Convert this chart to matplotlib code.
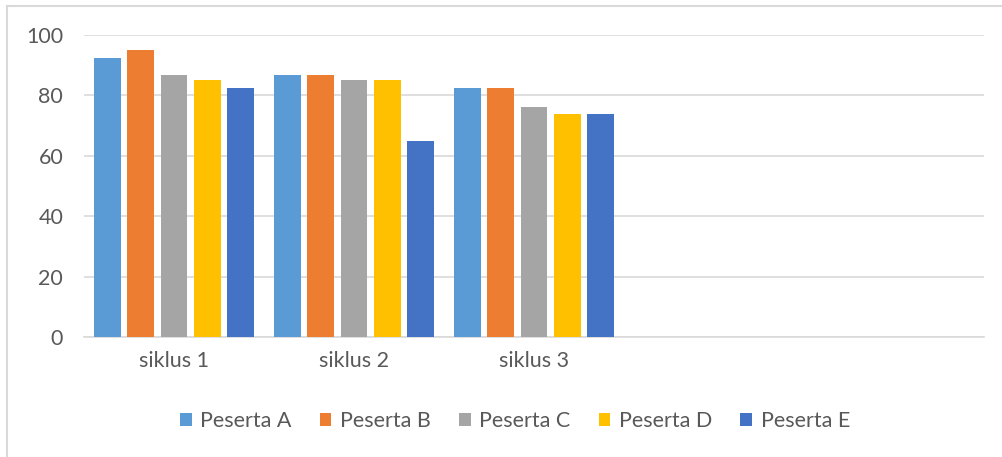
import matplotlib.pyplot as plt
from matplotlib.patches import Patch
from matplotlib.lines import Line2D
import numpy as np

plt.rcParams['font.family'] = ['Lato', 'DejaVu Sans']

categories = ['siklus 1', 'siklus 2', 'siklus 3', '', '']
series = ['Peserta A', 'Peserta B', 'Peserta C', 'Peserta D', 'Peserta E']
values = {
    'Peserta A': [92.5, 86.7, 82.3],
    'Peserta B': [95.0, 86.7, 82.3],
    'Peserta C': [86.7, 85.0, 76.0],
    'Peserta D': [85.0, 85.0, 73.7],
    'Peserta E': [82.3, 65.0, 73.7],
}
colors = ['#5B9BD5', '#ED7D31', '#A5A5A5', '#FFC000', '#4472C4']
yticks = [0, 20, 40, 60, 80, 100]

def main():
    fig = plt.figure(figsize=(10.03, 4.57), dpi=100)
    ax = fig.add_axes([84 / 1003, 1 - 337 / 457, 900 / 1003, 302 / 457])

    x = np.arange(len(categories))
    width = 26.7 / 180
    pitch = 33.3 / 180
    for i, name in enumerate(series):
        vals = values[name]
        ax.bar(x[:len(vals)] + (i - 2) * pitch, vals, width=width,
               color=colors[i], zorder=3, linewidth=0)

    ax.set_xlim(-0.5, len(categories) - 0.5)
    ax.set_ylim(0, 100)
    ax.set_yticks(yticks)
    ax.set_xticks(x)
    ax.set_xticklabels(categories)
    ax.grid(axis='y', color='#D9D9D9', linewidth=1.2, zorder=0)
    for s in ['top', 'right', 'left']:
        ax.spines[s].set_visible(False)
    ax.spines['bottom'].set_color('#D9D9D9')
    ax.spines['bottom'].set_linewidth(1.2)
    ax.tick_params(axis='both', length=0, labelsize=15.5, labelcolor='#595959')
    ax.tick_params(axis='x', pad=10)
    ax.tick_params(axis='y', pad=15)

    handles = [Patch(facecolor=c, edgecolor='none') for c in colors]
    fig.legend(handles, series, loc='center', ncol=5,
               bbox_to_anchor=(515 / 1003, 1 - 421 / 457), frameon=False,
               fontsize=15.5, handlelength=0.55, handleheight=0.55,
               handletextpad=0.4, columnspacing=1.3,
               labelcolor='#595959')

    # chart border (top and left edges visible)
    fig.add_artist(Line2D([7 / 1003, 1], [1 - 5.7 / 457, 1 - 5.7 / 457],
                          color='#D9D9D9', linewidth=1.5, transform=fig.transFigure))
    fig.add_artist(Line2D([7 / 1003, 7 / 1003], [0, 1 - 5.7 / 457],
                          color='#D9D9D9', linewidth=1.5, transform=fig.transFigure))

    fig.savefig('out.png', dpi=100)

if __name__ == "__main__":
    main()
